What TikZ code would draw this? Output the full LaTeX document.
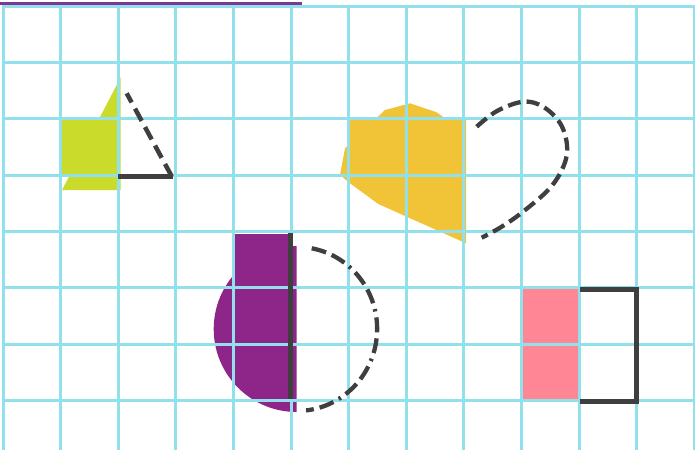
\documentclass[tikz,border=0pt]{standalone}
\definecolor{gridc}{HTML}{92E0EC}
\definecolor{limec}{HTML}{CADB2C}
\definecolor{sunc}{HTML}{F1C337}
\definecolor{plumc}{HTML}{8E2588}
\definecolor{rosec}{HTML}{FF8695}
\definecolor{inkc}{HTML}{3F3F3F}
\definecolor{topc}{HTML}{7E3794}
\tikzset{
  gridline/.style={draw=gridc, line width=3pt},
  inkline/.style={draw=inkc, line width=4.5pt},
  topline/.style={draw=topc, line width=2.7pt},
}
\begin{document}
\begin{tikzpicture}[x=1pt,y=-1pt]
\useasboundingbox (0,0) rectangle (695,450);
% fills
\fill[limec] (120.7,77.3) -- (62,190) -- (120.7,190) -- cycle;
\fill[limec] (59.5,119) rectangle (118.5,175.5);
\fill[sunc] (340,175) -- (345,148.3) -- (385,110) -- (410,103.3) -- (436.7,112.3) -- (445,118.3) -- (466,118.3) -- (466,243.3) -- (378.3,204) -- (350,183.3) -- cycle;
\fill[sunc] (349,118.3) rectangle (466,175);
\begin{scope}
  \clip (0,0) rectangle (296.7,450);
  \fill[plumc] (296.7,329) circle[radius=83pt];
\end{scope}
\fill[plumc] (233.3,234) rectangle (290,290);
\fill[rosec] (522,289) rectangle (577.7,399.5);
% grid
\foreach \k in {0,...,12} \draw[gridline] ({3+57.6*\k},4.8) -- ({3+57.6*\k},450);
\foreach \j in {0,...,7} \draw[gridline] (1.5,{6.3+56.3*\j}) -- (695,{6.3+56.3*\j});
% top purple line
\coordinate (tl) at (0,3.3);
\coordinate (tr) at (301.7,3.3);
\draw[topline] (tl) -- (tr);
% triangle outline
\coordinate (ta) at (118.3,176.3);
\coordinate (tb) at (172.7,176.3);
\coordinate (tc) at (126.7,93.3);
\draw[inkline] (ta) -- (tb);
\draw[inkline, dash pattern=on 14pt off 7pt] (171.7,176.3) -- (tc);
% dashed blob
\draw[inkline, line width=4.3pt, dash pattern=on 13pt off 6pt] plot[smooth, tension=0.6] coordinates {(476.7,126.7) (497,111) (523.3,101.7) (543,106.7) (560,123) (567,145) (564,165) (550,188) (523,211.7) (501.7,226.7) (481.7,237.7)};
% purple half: bar and dash-dot arc
\coordinate (pa) at (290.2,232.7);
\coordinate (pb) at (290.2,399);
\draw[inkline, line width=5pt] (pa) -- (pb);
\draw[inkline, line width=4.3pt, dash pattern=on 15pt off 6pt on 15pt off 6pt on 2.5pt off 6pt] (311.7,248.3) arc[start angle=79.5, end angle=-83.6, x radius=80pt, y radius=82pt];
% bracket
\coordinate (b1) at (580,289.5);
\coordinate (b2) at (636.5,289.5);
\coordinate (b3) at (636.5,401.5);
\coordinate (b4) at (580,401.5);
\draw[inkline, line width=4.4pt] (b1) -- (b2) -- (b3) -- (b4);
\end{tikzpicture}
\end{document}
